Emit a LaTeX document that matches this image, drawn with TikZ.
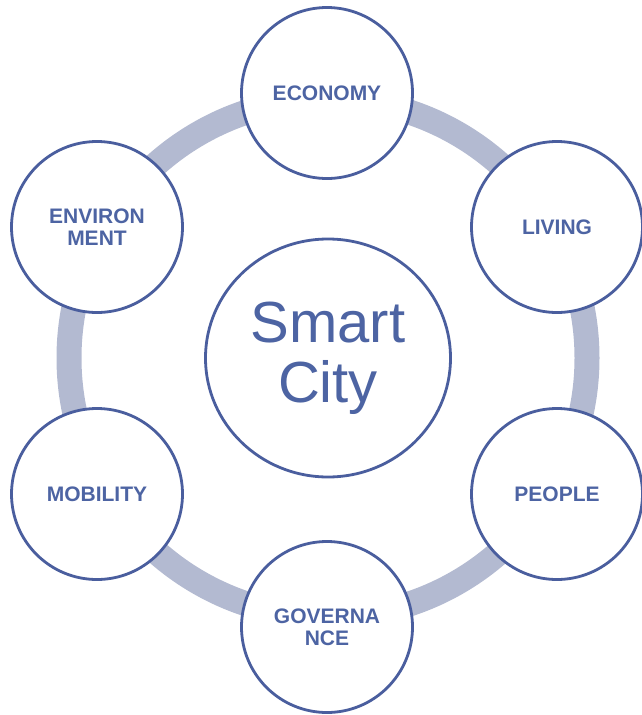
\documentclass[tikz,border=0pt]{standalone}
\usepackage{fontspec}
\usetikzlibrary{shapes.geometric}
\setmainfont{Liberation Sans}
\definecolor{ringc}{HTML}{B3BAD1}
\definecolor{edgec}{HTML}{4A5E9E}
\definecolor{textc}{HTML}{4D64A3}
\tikzset{
  pillar/.style={circle, draw=edgec, line width=2.8pt, fill=white,
    minimum size=171pt, inner sep=0pt, align=center, text=textc,
    font=\bfseries\fontsize{21}{22}\selectfont},
  hub/.style={ellipse, draw=edgec, line width=2.8pt, fill=white,
    minimum width=245pt, minimum height=238pt, inner sep=0pt, align=center, text=textc,
    font=\fontsize{58}{60}\selectfont}
}
\begin{document}
\begin{tikzpicture}[x=1pt, y=-1pt]
\useasboundingbox (0,0) rectangle (642,715);
\coordinate (ringc) at (328,358);
\draw[ringc, line width=25pt] (ringc) circle[radius=259];
\node[hub] (center) at (328,358) {Smart\\City};
\node[pillar] (econ) at (327,93) {ECONOMY};
\node[pillar] (living) at (557,227) {LIVING};
\node[pillar] (people) at (557,494) {PEOPLE};
\node[pillar] (gov) at (327,627) {GOVERNA\\NCE};
\node[pillar] (mob) at (97,494) {MOBILITY};
\node[pillar] (env) at (97,227) {ENVIRON\\MENT};
\end{tikzpicture}
\end{document}
